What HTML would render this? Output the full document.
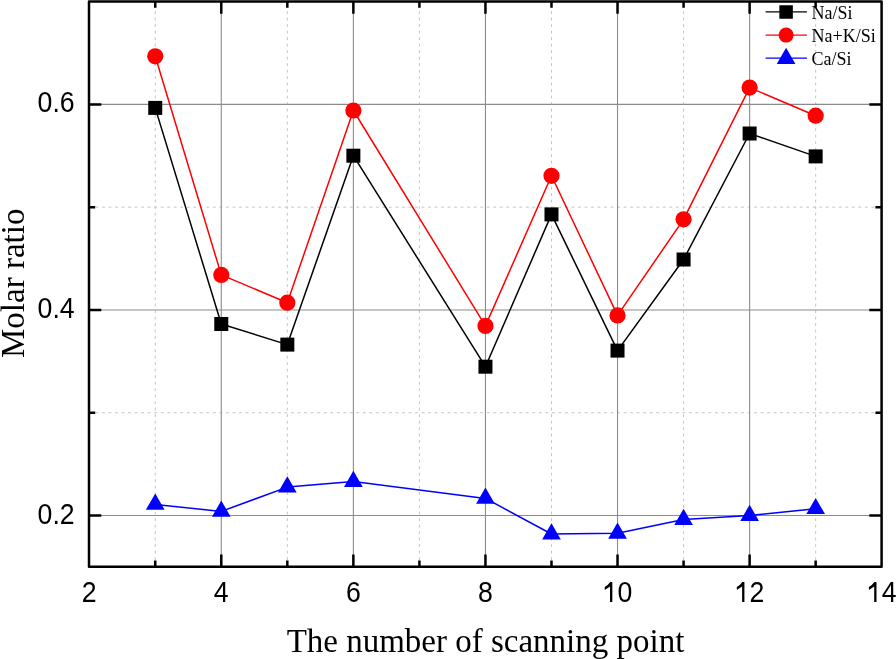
<!DOCTYPE html><html><head><meta charset="utf-8"><style>
html,body{margin:0;padding:0;background:#fff;}
body{width:896px;height:659px;overflow:hidden;}
svg{display:block;will-change:transform;}
.ts{font-family:"Liberation Sans",sans-serif;}
.tr{font-family:"Liberation Serif",serif;}
</style></head><body>
<svg width="896" height="659" viewBox="0 0 896 659">
<rect x="0" y="0" width="896" height="659" fill="#fff"/>
<path d="M155.24 1.50V566.70M287.32 1.50V566.70M419.41 1.50V566.70M551.49 1.50V566.70M683.58 1.50V566.70M815.66 1.50V566.70" stroke="#c4c4c4" stroke-width="1" stroke-dasharray="2.8 3.70" stroke-dashoffset="-9.70" fill="none"/>
<path d="M89.00 412.73H881.60M89.00 207.16H881.60" stroke="#c4c4c4" stroke-width="1" stroke-dasharray="2.8 3.72" stroke-dashoffset="-13.10" fill="none"/>
<path d="M221.28 1.50V566.70M353.37 1.50V566.70M485.45 1.50V566.70M617.53 1.50V566.70M749.62 1.50V566.70M89.00 515.51H881.60M89.00 309.95H881.60M89.00 104.38H881.60" stroke="#8c8c8c" stroke-width="1.1" fill="none"/>
<path d="M221.28 566.70v-12.3M221.28 1.50v12.3M353.37 566.70v-12.3M353.37 1.50v12.3M485.45 566.70v-12.3M485.45 1.50v12.3M617.53 566.70v-12.3M617.53 1.50v12.3M749.62 566.70v-12.3M749.62 1.50v12.3M155.24 566.70v-6.2M155.24 1.50v6.2M287.32 566.70v-6.2M287.32 1.50v6.2M419.41 566.70v-6.2M419.41 1.50v6.2M551.49 566.70v-6.2M551.49 1.50v6.2M683.58 566.70v-6.2M683.58 1.50v6.2M815.66 566.70v-6.2M815.66 1.50v6.2M89.00 515.51h12.3M881.60 515.51h-12.3M89.00 309.95h12.3M881.60 309.95h-12.3M89.00 104.38h12.3M881.60 104.38h-12.3M89.00 412.73h6.2M881.60 412.73h-6.2M89.00 207.16h6.2M881.60 207.16h-6.2" stroke="#000" stroke-width="2.5" fill="none"/>
<rect x="89.0" y="1.5" width="792.60" height="565.20" fill="none" stroke="#000" stroke-width="2.5" stroke-linejoin="round"/>
<polyline points="155.24,107.90 221.28,324.00 287.32,344.60 353.37,155.70 485.45,366.70 551.49,214.40 617.53,350.60 683.58,259.50 749.62,133.50 815.66,156.40" fill="none" stroke="#000" stroke-width="1.5" stroke-linejoin="round"/>
<rect x="148.24" y="100.90" width="14.0" height="14.0" fill="#000"/><rect x="214.28" y="317.00" width="14.0" height="14.0" fill="#000"/><rect x="280.32" y="337.60" width="14.0" height="14.0" fill="#000"/><rect x="346.37" y="148.70" width="14.0" height="14.0" fill="#000"/><rect x="478.45" y="359.70" width="14.0" height="14.0" fill="#000"/><rect x="544.49" y="207.40" width="14.0" height="14.0" fill="#000"/><rect x="610.53" y="343.60" width="14.0" height="14.0" fill="#000"/><rect x="676.58" y="252.50" width="14.0" height="14.0" fill="#000"/><rect x="742.62" y="126.50" width="14.0" height="14.0" fill="#000"/><rect x="808.66" y="149.40" width="14.0" height="14.0" fill="#000"/>
<polyline points="155.24,56.30 221.28,274.90 287.32,302.70 353.37,110.50 485.45,325.90 551.49,175.80 617.53,315.40 683.58,219.30 749.62,87.60 815.66,115.70" fill="none" stroke="#f00" stroke-width="1.5" stroke-linejoin="round"/>
<circle cx="155.24" cy="56.30" r="8.1" fill="#f00"/><circle cx="221.28" cy="274.90" r="8.1" fill="#f00"/><circle cx="287.32" cy="302.70" r="8.1" fill="#f00"/><circle cx="353.37" cy="110.50" r="8.1" fill="#f00"/><circle cx="485.45" cy="325.90" r="8.1" fill="#f00"/><circle cx="551.49" cy="175.80" r="8.1" fill="#f00"/><circle cx="617.53" cy="315.40" r="8.1" fill="#f00"/><circle cx="683.58" cy="219.30" r="8.1" fill="#f00"/><circle cx="749.62" cy="87.60" r="8.1" fill="#f00"/><circle cx="815.66" cy="115.70" r="8.1" fill="#f00"/>
<polyline points="155.24,504.40 221.28,511.40 287.32,487.10 353.37,481.50 485.45,498.40 551.49,534.00 617.53,533.30 683.58,519.50 749.62,515.50 815.66,508.70" fill="none" stroke="#00f" stroke-width="1.5" stroke-linejoin="round"/>
<path d="M155.24 493.60L164.59 509.80L145.89 509.80Z" fill="#00f"/><path d="M221.28 500.60L230.64 516.80L211.93 516.80Z" fill="#00f"/><path d="M287.32 476.30L296.68 492.50L277.97 492.50Z" fill="#00f"/><path d="M353.37 470.70L362.72 486.90L344.01 486.90Z" fill="#00f"/><path d="M485.45 487.60L494.80 503.80L476.10 503.80Z" fill="#00f"/><path d="M551.49 523.20L560.84 539.40L542.14 539.40Z" fill="#00f"/><path d="M617.53 522.50L626.89 538.70L608.18 538.70Z" fill="#00f"/><path d="M683.58 508.70L692.93 524.90L674.22 524.90Z" fill="#00f"/><path d="M749.62 504.70L758.97 520.90L740.26 520.90Z" fill="#00f"/><path d="M815.66 497.90L825.01 514.10L806.31 514.10Z" fill="#00f"/>
<path d="M765.6 11.8H806.9" stroke="#000" stroke-width="1.3"/>
<rect x="779.35" y="5.25" width="13.5" height="13.5" fill="#000"/>
<path d="M765.6 35.1H806.9" stroke="#f00" stroke-width="1.3"/>
<circle cx="786.10" cy="35.10" r="7.5" fill="#f00"/>
<path d="M765.6 58.2H806.9" stroke="#00f" stroke-width="1.3"/>
<path d="M786.10 47.70L795.45 63.90L776.75 63.90Z" fill="#00f"/>
<text class="tr" x="811.5" y="18.8" font-size="18">Na/Si</text>
<text class="tr" x="811.5" y="42.1" font-size="18">Na+K/Si</text>
<text class="tr" x="811.5" y="65.0" font-size="18">Ca/Si</text>
<text class="ts" transform="translate(89.20,601.8) scale(0.92,1)" font-size="29" text-anchor="middle">2</text>
<text class="ts" transform="translate(221.28,601.8) scale(0.92,1)" font-size="29" text-anchor="middle">4</text>
<text class="ts" transform="translate(353.37,601.8) scale(0.92,1)" font-size="29" text-anchor="middle">6</text>
<text class="ts" transform="translate(485.45,601.8) scale(0.92,1)" font-size="29" text-anchor="middle">8</text>
<text class="ts" transform="translate(617.53,601.8) scale(0.92,1)" font-size="29" text-anchor="start">0</text>
<text class="ts" transform="translate(749.62,601.8) scale(0.92,1)" font-size="29" text-anchor="start">2</text>
<text class="ts" transform="translate(881.70,601.8) scale(0.92,1)" font-size="29" text-anchor="start">4</text>
<path d="M612.33 582.0V601.9H610.03V586.4L605.13 589.7L604.73 589.4L604.73 587.0Q607.93 585.3 610.23 582.0ZM744.42 582.0V601.9H742.12V586.4L737.22 589.7L736.82 589.4L736.82 587.0Q740.02 585.3 742.32 582.0ZM876.50 582.0V601.9H874.20V586.4L869.30 589.7L868.90 589.4L868.90 587.0Q872.10 585.3 874.40 582.0Z" fill="#000"/>
<text class="ts" transform="translate(74.7,523.61) scale(0.92,1)" font-size="29" text-anchor="end">0.2</text>
<text class="ts" transform="translate(74.7,318.05) scale(0.92,1)" font-size="29" text-anchor="end">0.4</text>
<text class="ts" transform="translate(74.7,112.48) scale(0.92,1)" font-size="29" text-anchor="end">0.6</text>
<text class="tr" x="485.5" y="651.8" font-size="33" text-anchor="middle">The number of scanning point</text>
<text class="tr" transform="translate(24,283.3) rotate(-90)" x="0" y="0" font-size="33" text-anchor="middle">Molar ratio</text>
</svg></body></html>
